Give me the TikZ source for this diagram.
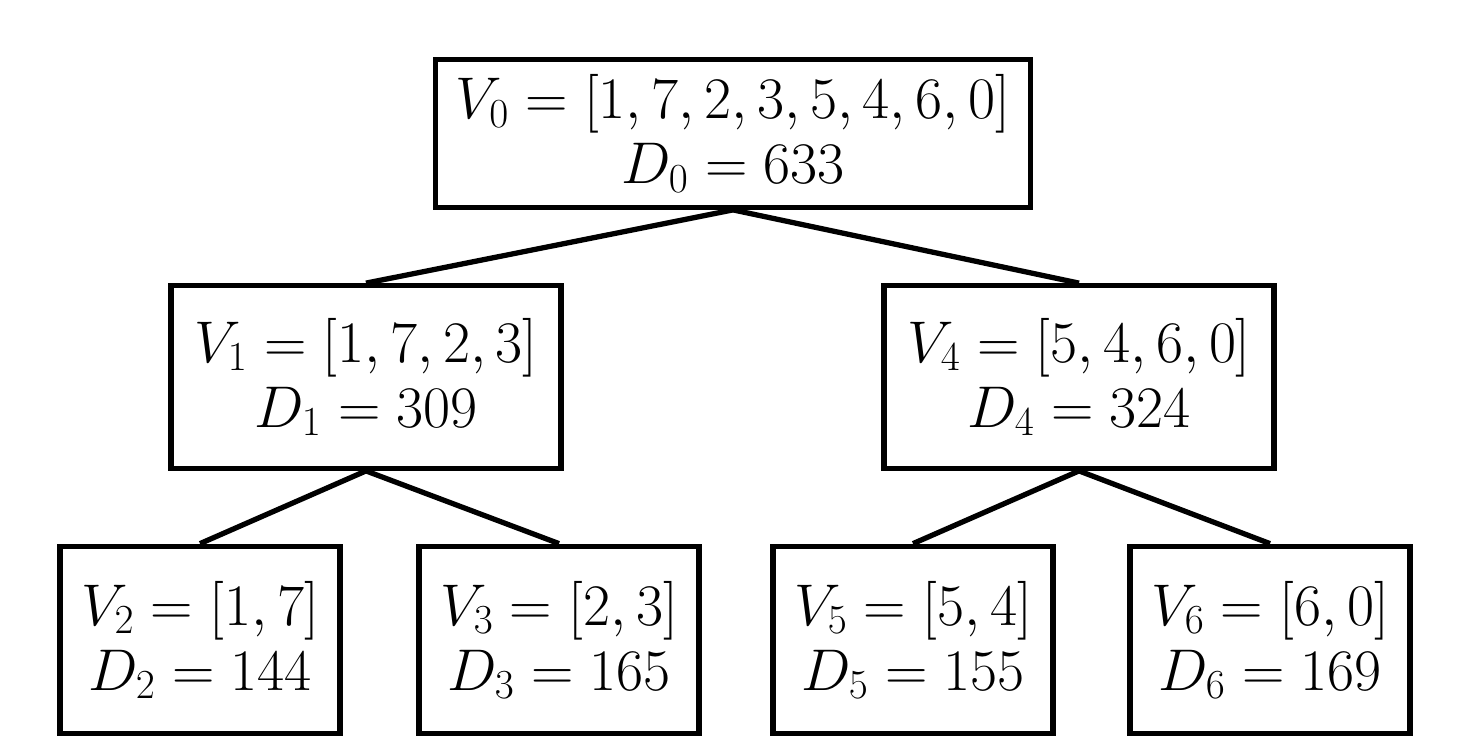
\documentclass[tikz,border=0pt]{standalone}
\usepackage{fix-cm}
\usepackage{amsmath}
\DeclareMathSizes{33.5}{33.5}{23.5}{16.75}
\usetikzlibrary{positioning}

\begin{document}
\begin{tikzpicture}[
  box/.style={rectangle, draw, line width=3pt, align=center, font=\fontsize{33.5}{37}\selectfont, inner sep=0pt},
  rootbox/.style={box, minimum width=11.9cm, minimum height=2.95cm},
  midbox/.style={box, minimum width=7.8cm, minimum height=3.65cm},
  leafbox/.style={box, minimum width=5.6cm, minimum height=3.75cm},
  link/.style={line width=3pt}
]
  \useasboundingbox (0,0) rectangle (29.42,-15);

  \node[rootbox] (V0) at (14.66,-2.67) {$V_0 = [1, 7, 2, 3, 5, 4, 6, 0]$\\$D_0 = 633$};
  \node[midbox]  (V1) at (7.32,-7.54)  {$V_1 = [1, 7, 2, 3]$\\$D_1 = 309$};
  \node[midbox]  (V4) at (21.58,-7.54) {$V_4 = [5, 4, 6, 0]$\\$D_4 = 324$};
  \node[leafbox] (V2) at (4.0,-12.8)   {$V_2 = [1, 7]$\\$D_2 = 144$};
  \node[leafbox] (V3) at (11.18,-12.8) {$V_3 = [2, 3]$\\$D_3 = 165$};
  \node[leafbox] (V5) at (18.26,-12.8) {$V_5 = [5, 4]$\\$D_5 = 155$};
  \node[leafbox] (V6) at (25.4,-12.8)  {$V_6 = [6, 0]$\\$D_6 = 169$};

  \foreach \from/\to in {V0/V1, V0/V4, V1/V2, V1/V3, V4/V5, V4/V6}{
    \draw[link] (\from.south) -- (\to.north);
  }
\end{tikzpicture}
\end{document}
